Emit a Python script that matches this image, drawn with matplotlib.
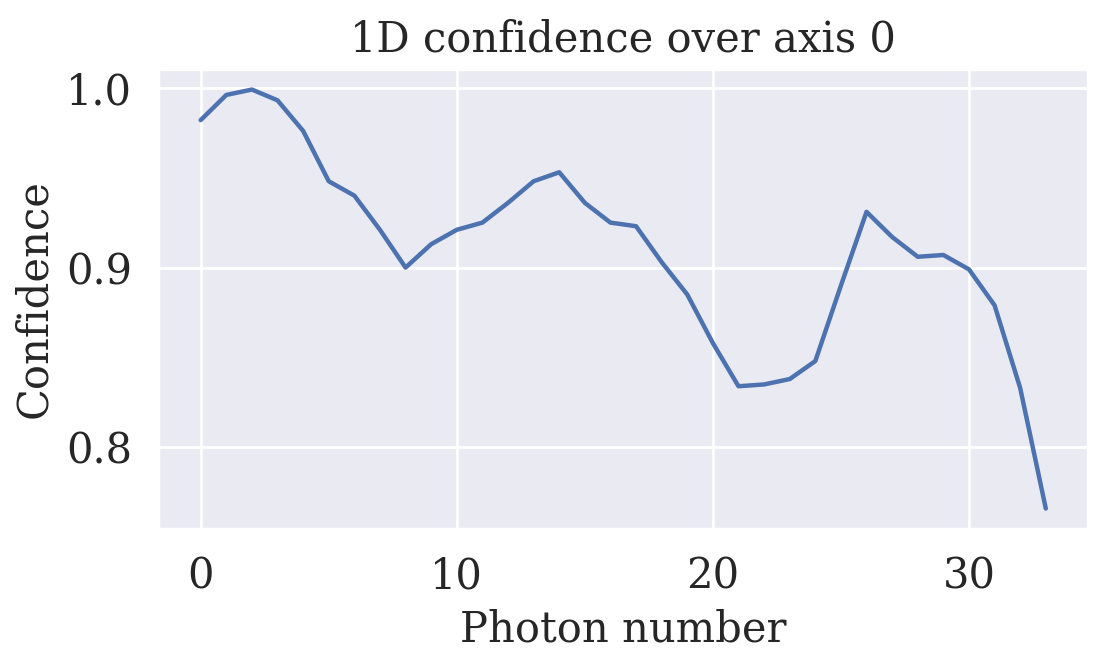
import matplotlib
matplotlib.use("Agg")
import matplotlib.pyplot as plt
import seaborn as sns

photon = list(range(34))
confidence = [0.982, 0.996, 0.999, 0.993, 0.976, 0.948, 0.940, 0.921, 0.900, 0.913,
              0.921, 0.925, 0.936, 0.948, 0.953, 0.936, 0.925, 0.923, 0.903, 0.885,
              0.858, 0.834, 0.835, 0.838, 0.848, 0.890, 0.931, 0.917, 0.906, 0.907,
              0.899, 0.879, 0.833, 0.766]

sns.set_theme(style="darkgrid", font="serif", font_scale=1.4)
plt.rcParams["font.family"] = ["DejaVu Serif"]

fig, ax = plt.subplots(figsize=(5.54, 3.33), dpi=200)
ax.plot(photon, confidence, color="#4c72b0", linewidth=1.6)
ax.set_xlabel("Photon number", fontsize=15)
ax.set_ylabel("Confidence", fontsize=15)
ax.set_title("1D confidence over axis 0", fontsize=15)
ax.tick_params(labelsize=15)
ax.set_xticks([0, 10, 20, 30])
ax.set_yticks([0.8, 0.9, 1.0])
fig.subplots_adjust(left=0.143, right=0.982, top=0.897, bottom=0.205)
fig.savefig("out.png")
